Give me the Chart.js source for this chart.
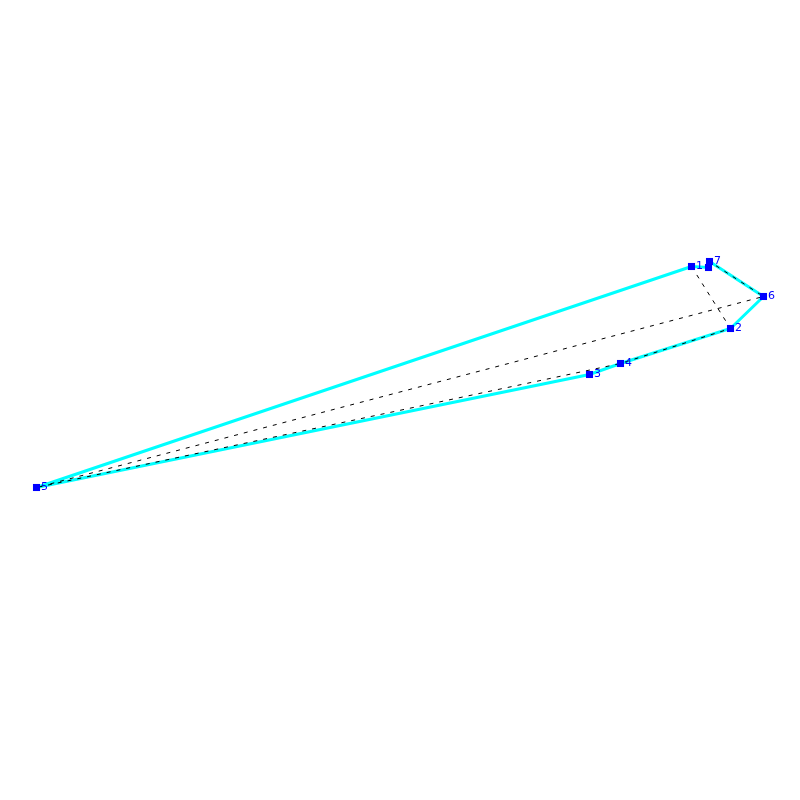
<!DOCTYPE html>
<html>
<head>
<meta charset="utf-8">
<style>
  html, body { margin: 0; padding: 0; background: #fff; }
  canvas { display: block; }
</style>
<script src="https://cdn.jsdelivr.net/npm/chart.js@4"></script>
</head>
<body>
<canvas id="grafo" width="800" height="800"></canvas>
<script>
// nodes
const node_labels = ['1', '2', '3', '4', '5', '6', '7', '']
const node_x = [691.5, 730.5, 589.5, 620.5, 36.5, 763.5, 709.5, 708.5]
const node_y = [266.5, 328.5, 374.5, 363.5, 487.5, 296.5, 261.5, 267.5]

// paths as node indexes
const cyan_path = [0, 7, 6, 5, 1, 3, 2, 4, 0]
const dashed_path = [0, 1, 3, 4, 5, 6]

const pontos = path => path.map(i => ({ x: node_x[i], y: node_y[i] }))

const rotulos = {
  id: 'rotulos',
  afterDatasetsDraw(chart) {
    const { ctx, scales } = chart
    ctx.save()
    ctx.font = '11px "DejaVu Sans"'
    ctx.fillStyle = '#0000ff'
    ctx.textBaseline = 'middle'
    node_labels.forEach((label, i) => {
      ctx.fillText(label, scales.x.getPixelForValue(node_x[i]) + 4.5, scales.y.getPixelForValue(node_y[i]))
    })
    ctx.restore()
  }
}

new Chart(document.getElementById('grafo'), {
  type: 'scatter',
  plugins: [rotulos],
  data: {
    datasets: [
      {
        data: node_x.map((x, i) => ({ x, y: node_y[i] })),
        showLine: false, order: 0,
        pointStyle: 'rect', pointRadius: 5, pointBackgroundColor: '#0000ff', pointBorderWidth: 0
      },
      {
        data: pontos(dashed_path),
        showLine: true, order: 1,
        borderColor: '#000000', borderWidth: 1, borderDash: [4, 6], pointRadius: 0
      },
      {
        data: pontos(cyan_path),
        showLine: true, order: 2,
        borderColor: '#00ffff', borderWidth: 3, pointRadius: 0
      }
    ]
  },
  options: {
    responsive: false,
    animation: false,
    layout: { padding: 0, autoPadding: false },
    plugins: { legend: { display: false }, tooltip: { enabled: false } },
    scales: {
      x: { type: 'linear', min: 0, max: 800, display: false },
      y: { type: 'linear', min: 0, max: 800, reverse: true, display: false }
    }
  }
})
</script>
</body>
</html>
